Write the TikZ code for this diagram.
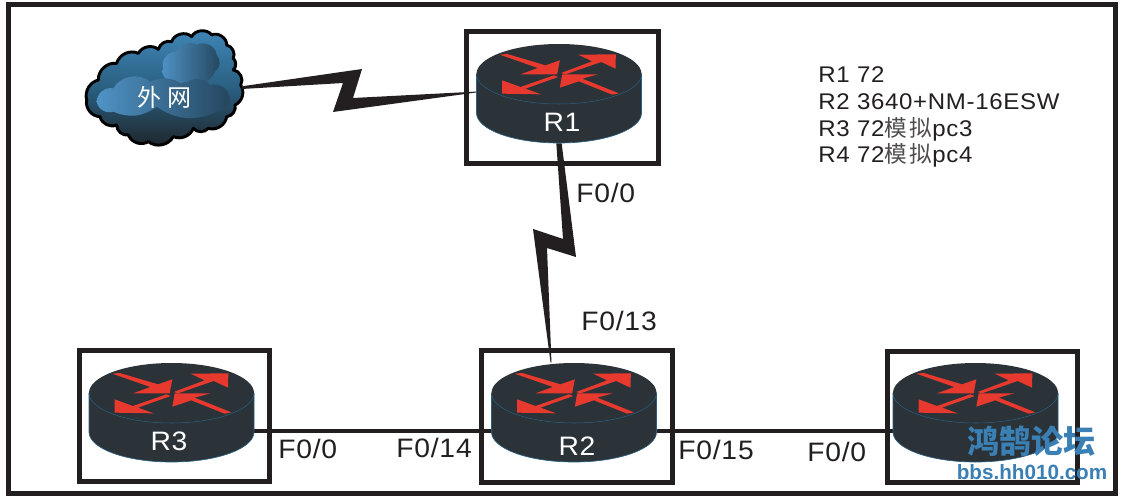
\documentclass[tikz,border=0pt]{standalone}
\usepackage{fontspec}
\setmainfont{Liberation Sans}
\newfontfamily\cjk{Noto Sans CJK SC}
\newfontfamily\wide[FakeStretch=1.06,LetterSpace=3]{Liberation Sans}
\usetikzlibrary{calc}
\definecolor{rdark}{HTML}{2B3238}
\definecolor{redge}{HTML}{2A5F7F}
\definecolor{rred}{HTML}{E8392F}
\definecolor{frame}{HTML}{231F20}
\definecolor{wm}{HTML}{3A80B4}
\definecolor{cltop}{HTML}{3F86B8}
\definecolor{clmid}{HTML}{2A5F80}
\definecolor{clbot}{HTML}{1E2429}
\definecolor{bloblight}{HTML}{4F93C6}
\definecolor{blobdark}{HTML}{25465E}
\tikzset{
  px/.style={x=0.75pt,y=-0.75pt},
  framebox/.style={draw=frame,line width=3.75pt,fill=none},
  routerbody/.style={minimum width=123.75pt,minimum height=74.25pt,inner sep=0pt,outer sep=0pt},
  lab/.style={font=\wide\fontsize{20}{24}\selectfont,text=frame,inner sep=0pt},
  rname/.style={font=\wide\fontsize{20}{24}\selectfont,text=white,inner sep=0pt},
  notes/.style={font=\wide\fontsize{17}{20}\selectfont,text=frame,inner sep=0pt,align=left},
  zig/.style={fill=frame},
  wire/.style={draw=frame,line width=3pt},
  pics/router/.style={code={
    \fill[rdark,draw=redge,line width=0.5pt] (-82.5,0) -- (-82.5,39) arc[start angle=180,end angle=0,x radius=82.5,y radius=30] -- (82.5,0) -- cycle;
    \fill[rdark] (-82.5,0) arc[start angle=180,end angle=-180,x radius=82.5,y radius=30];
    \draw[redge,line width=0.4pt] (-82.5,0) arc[start angle=180,end angle=0,x radius=82.5,y radius=30];
    \begin{scope}[x=0.25pt,y=-0.25pt,shift={(-285.5,-156)},rred]
      \fill (108,98)--(130,96)--(245,130)--(288,115)--(280,157)--(170,157)--(222,138)--cycle;
      \fill (292,153)--(385,118)--(343,98)--(456,97)--(455,140)--(412,120)--(305,157)--cycle;
      \fill (270,160)--(170,195)--(115,175)--(115,215)--(232,217)--(185,200)--(283,165)--cycle;
      \fill (465,214)--(355,170)--(402,157)--(295,157)--(288,197)--(345,178)--(445,218)--cycle;
    \end{scope}
  }}
}
\begin{document}
\begin{tikzpicture}[px]
\useasboundingbox (0,0) rectangle (1124,499);
\fill[white] (0,0) rectangle (1124,499);
\draw[framebox] (8,5) rectangle (1115,493);
% bodies
\node[routerbody] (r1) at (559,94) {};
\node[routerbody] (r2) at (574,412) {};
\node[routerbody] (r3) at (171.5,412) {};
\node[routerbody] (r4) at (975.5,412) {};
% cloud
\begin{scope}[shift={(70,20)},x=0.25pt,y=-0.25pt]
  \def\cloudpath{(50,240) to[bend left=45] (85,180) to[bend left=50] (140,130) to[bend left=50] (205,100) to[bend left=50] (265,88) to[bend left=45] (305,65) to[bend left=60] (365,50) to[bend left=60] (425,45) to[bend left=60] (470,75) to[bend left=50] (490,115) to[bend left=45] (490,150) to[bend left=60] (512,195) to[bend left=50] (495,255) to[bend left=50] (470,290) to[bend left=50] (415,325) to[bend left=50] (370,325) to[bend left=45] (310,350) to[bend left=50] (235,365) to[bend left=50] (175,345) to[bend left=50] (140,315) to[bend left=50] (90,290) to[bend left=50] cycle}
  \shade[top color=cltop,bottom color=clbot,middle color=clmid] \cloudpath;
  \shade[left color=bloblight,right color=blobdark] (280,145) to[bend left=60] (320,95) to[bend left=50] (380,75) to[bend left=60] (440,105) to[bend left=50] (435,155) to[bend left=50] (345,185) to[bend left=50] (280,165) to[bend left=50] cycle;
  \shade[left color=bloblight,right color=blobdark] (80,245) to[bend left=50] (130,205) to[bend left=50] (240,185) to[bend left=30] (340,195) to[bend left=50] (420,195) to[bend left=50] (480,235) to[bend left=50] (440,275) to[bend left=30] (260,260) to[bend left=30] (130,275) to[bend left=50] cycle;
  \draw[black,line width=2.2pt,line join=round] \cloudpath;
  \node[font=\cjk\fontsize{18}{20}\selectfont,text=white,inner sep=0pt] (cloud) at (283,232) {外\hspace{5pt}网};
  \coordinate (cloudout) at (515,203);
\end{scope}
% connectors
\coordinate (r1tail) at ([shift={(7.5pt,2.2pt)}]r1.west);
\fill[zig] ([yshift=1pt]cloudout) -- ([yshift=-1pt]cloudout) -- (343,83) -- (333,112) -- (r1tail) -- (353,98) -- (362,69) -- cycle;
\draw[wire] ([yshift=-14.25pt]r3.east) -- ([yshift=-14.25pt]r2.west);
\draw[wire] ([yshift=-14.25pt]r2.east) -- ([yshift=-14.25pt]r4.west);
% routers
\pic at (559,74) {router};
\pic at (574,393) {router};
\pic at (171.5,393) {router};
\pic at (975.5,393) {router};
\draw[framebox] (466,32) rectangle (658,164);
\draw[framebox] (481,350) rectangle (672,482);
\draw[framebox] (79,350.5) rectangle (269,481);
\draw[framebox] (887,351) rectangle (1077,482);
\fill[zig] ([xshift=-2pt]r1.south) -- ([xshift=2pt]r1.south) -- (576,257) -- (547,248) -- ([xshift=-16.9pt]r2.north) -- ([xshift=-17.6pt]r2.north) -- (533,229) -- (563,239) -- cycle;
% labels
\node[rname] (n1) at (562,122) {R1};
\node[rname] (n2) at (577,446) {R2};
\node[rname] (n3) at (169,441) {R3};
\node[lab,anchor=base west] (l1) at (576,203) {F0/0};
\node[lab,anchor=base west] (l2) at (581,330) {F0/13};
\node[lab,anchor=base west] (l3) at (278,458) {F0/0};
\node[lab,anchor=base west] (l4) at (396,457) {F0/14};
\node[lab,anchor=base west] (l5) at (678,459) {F0/15};
\node[lab,anchor=base west] (l6) at (807,461) {F0/0};
\node[notes,anchor=base west] (nt) at (818,163) {R1 72\\R2 3640+NM-16ESW\\R3 72{\cjk\color{frame!80}模\hspace{2pt}拟}pc3\\R4 72{\cjk\color{frame!80}模\hspace{2pt}拟}pc4};
\node[font=\cjk\bfseries\fontsize{24}{26}\selectfont,text=wm,inner sep=0pt] (wm1) at (1031,441) {鸿鹄论坛};
\node[font=\bfseries\fontsize{15.5}{18}\selectfont,text=wm,inner sep=0pt] (wm2) at (1032,472) {bbs.hh010.com};
\end{tikzpicture}
\end{document}
